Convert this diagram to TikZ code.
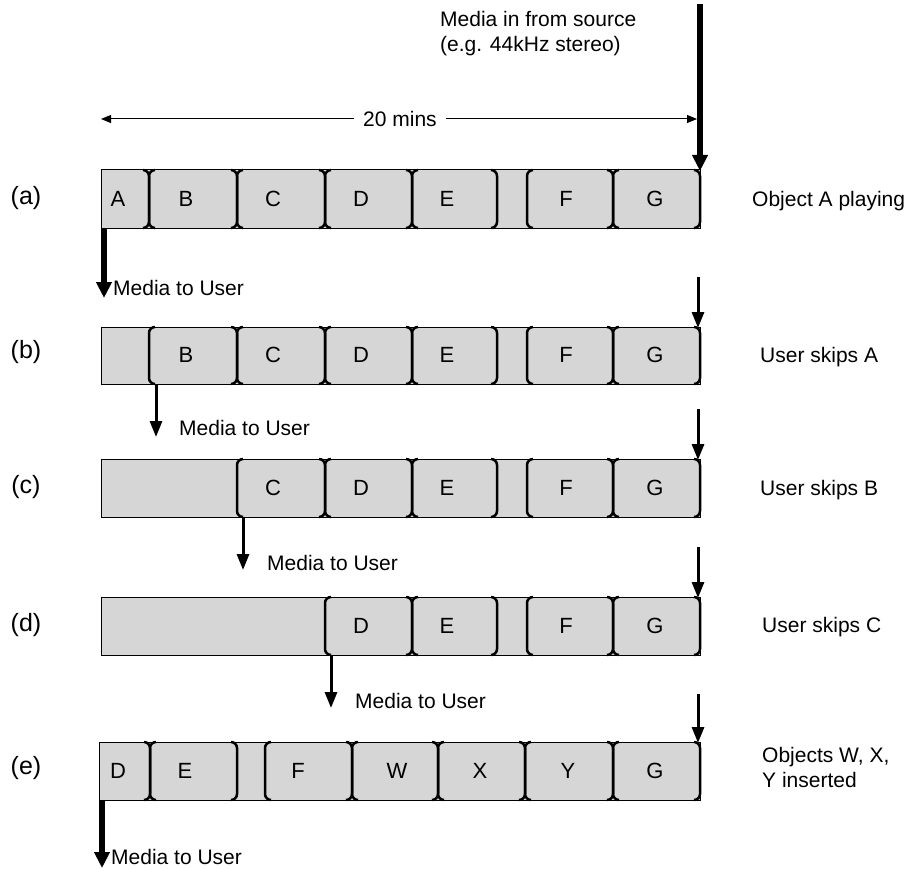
\documentclass[tikz,border=0pt]{standalone}
\usepackage{fontspec}
\setmainfont{Liberation Sans}
\usetikzlibrary{arrows.meta}
\definecolor{boxgray}{RGB}{214,214,214}
\newcommand\lbr[3]{\draw[brk] (#1+6,#2) -- (#1,#2) -- (#1,#3) -- (#1+6,#3);}
\newcommand\rbr[3]{\draw[brk] (#1-6,#2) -- (#1,#2) -- (#1,#3) -- (#1-6,#3);}
\newcommand\bufrow[3]{\draw[buf] (#1,#2) rectangle (700,#3);}
\begin{document}
\begin{tikzpicture}[x=1pt,y=-1pt,
  txt/.style={font=\fontsize{21}{25}\selectfont, inner sep=0pt},
  let/.style={font=\fontsize{22}{26}\selectfont, inner sep=0pt},
  rowlab/.style={font=\fontsize{25}{30}\selectfont, inner sep=0pt},
  buf/.style={fill=boxgray, draw=black, line width=1pt},
  brk/.style={line width=2.5pt, rounded corners=6pt},
  bigarrow/.style={line width=5.5pt, -{Triangle[width=15pt,length=16pt]}},
  smallarrow/.style={line width=3pt, -{Triangle[width=12pt,length=16pt]}},
  dimarrow/.style={line width=1pt, {Triangle[width=8pt,length=10pt]}-{Triangle[width=8pt,length=10pt]}}]
\useasboundingbox (0,0) rectangle (912,869);

% top annotation
\node[txt, anchor=west, align=left] (src) at (440,34) {Media in from source\\(e.g. 44kHz stereo)};
\coordinate (srctop) at (700,4);
\coordinate (srcbot) at (700,171);
\draw[bigarrow] (srctop) -- (srcbot);

% 20 mins
\coordinate (dl) at (101,119);
\coordinate (dr) at (697,119);
\draw[dimarrow] (dl) -- (dr);
\node[txt, fill=white, inner xsep=9pt, inner ysep=2pt] (mins) at (400,119) {20 mins};

% ---------- row (a) ----------
\bufrow{101}{170}{228}
\rbr{149}{170}{228}
\lbr{149}{170}{228}\rbr{237}{170}{228}
\lbr{237}{170}{228}\rbr{325}{170}{228}
\lbr{325}{170}{228}\rbr{412}{170}{228}
\lbr{412}{170}{228}\rbr{497}{170}{228}
\lbr{527}{170}{228}\rbr{613}{170}{228}
\lbr{613}{170}{228}\rbr{700}{170}{228}
\node[let] (aA) at (118,199) {A};
\node[let] (aB) at (186,199) {B};
\node[let] (aC) at (273,199) {C};
\node[let] (aD) at (361,199) {D};
\node[let] (aE) at (447,199) {E};
\node[let] (aF) at (566,199) {F};
\node[let] (aG) at (655,199) {G};
\node[rowlab] (la) at (26,198) {(a)};
\node[txt, anchor=west] (ra) at (752,201) {Object A playing};
\coordinate (ua1) at (104,228);
\coordinate (ua2) at (104,298);
\draw[bigarrow] (ua1) -- (ua2);
\node[txt, anchor=west] (ma) at (113,288) {Media to User};

% ---------- row (b) ----------
\bufrow{101}{327}{384}
\lbr{149}{327}{384}\rbr{237}{327}{384}
\lbr{237}{327}{384}\rbr{325}{327}{384}
\lbr{325}{327}{384}\rbr{412}{327}{384}
\lbr{412}{327}{384}\rbr{497}{327}{384}
\lbr{527}{327}{384}\rbr{613}{327}{384}
\lbr{613}{327}{384}\rbr{700}{327}{384}
\node[let] (bB) at (186,355) {B};
\node[let] (bC) at (273,355) {C};
\node[let] (bD) at (361,355) {D};
\node[let] (bE) at (447,355) {E};
\node[let] (bF) at (566,355) {F};
\node[let] (bG) at (655,355) {G};
\node[rowlab] (lb) at (26,352) {(b)};
\node[txt, anchor=west] (rb) at (760,357) {User skips A};
\coordinate (ib1) at (698,277);
\coordinate (ib2) at (698,328);
\draw[smallarrow] (ib1) -- (ib2);
\coordinate (ub1) at (156,384);
\coordinate (ub2) at (156,437);
\draw[smallarrow] (ub1) -- (ub2);
\node[txt, anchor=west] (mb) at (179,428) {Media to User};

% ---------- row (c) ----------
\bufrow{101}{459}{517}
\lbr{237}{459}{517}\rbr{325}{459}{517}
\lbr{325}{459}{517}\rbr{412}{459}{517}
\lbr{412}{459}{517}\rbr{497}{459}{517}
\lbr{527}{459}{517}\rbr{613}{459}{517}
\lbr{613}{459}{517}\rbr{700}{459}{517}
\node[let] (cC) at (273,488) {C};
\node[let] (cD) at (361,488) {D};
\node[let] (cE) at (447,488) {E};
\node[let] (cF) at (566,488) {F};
\node[let] (cG) at (655,488) {G};
\node[rowlab] (lc) at (26,487) {(c)};
\node[txt, anchor=west] (rc) at (760,490) {User skips B};
\coordinate (ic1) at (698,409);
\coordinate (ic2) at (698,460);
\draw[smallarrow] (ic1) -- (ic2);
\coordinate (uc1) at (243,517);
\coordinate (uc2) at (243,570);
\draw[smallarrow] (uc1) -- (uc2);
\node[txt, anchor=west] (mc) at (267,563) {Media to User};

% ---------- row (d) ----------
\bufrow{101}{597}{655}
\lbr{325}{597}{655}\rbr{412}{597}{655}
\lbr{412}{597}{655}\rbr{497}{597}{655}
\lbr{527}{597}{655}\rbr{613}{597}{655}
\lbr{613}{597}{655}\rbr{700}{597}{655}
\node[let] (dD) at (361,626) {D};
\node[let] (dE) at (447,626) {E};
\node[let] (dF) at (566,626) {F};
\node[let] (dG) at (655,626) {G};
\node[rowlab] (ld) at (26,625) {(d)};
\node[txt, anchor=west] (rd) at (762,627) {User skips C};
\coordinate (id1) at (698,547);
\coordinate (id2) at (698,598);
\draw[smallarrow] (id1) -- (id2);
\coordinate (ud1) at (331,655);
\coordinate (ud2) at (331,708);
\draw[smallarrow] (ud1) -- (ud2);
\node[txt, anchor=west] (md) at (355,701) {Media to User};

% ---------- row (e) ----------
\bufrow{99}{742}{800}
\rbr{150}{742}{800}
\lbr{150}{742}{800}\rbr{237}{742}{800}
\lbr{265}{742}{800}\rbr{352}{742}{800}
\lbr{352}{742}{800}\rbr{438}{742}{800}
\lbr{438}{742}{800}\rbr{525}{742}{800}
\lbr{525}{742}{800}\rbr{613}{742}{800}
\lbr{613}{742}{800}\rbr{700}{742}{800}
\node[let] (eD) at (118,771) {D};
\node[let] (eE) at (185,771) {E};
\node[let] (eF) at (298,771) {F};
\node[let] (eW) at (397,771) {W};
\node[let] (eX) at (480,771) {X};
\node[let] (eY) at (568,771) {Y};
\node[let] (eG) at (655,771) {G};
\node[rowlab] (le) at (26,768) {(e)};
\node[txt, anchor=west, align=left] (re) at (762,767) {Objects W, X,\\Y inserted};
\coordinate (ie1) at (698,694);
\coordinate (ie2) at (698,743);
\draw[smallarrow] (ie1) -- (ie2);
\coordinate (ue1) at (102,800);
\coordinate (ue2) at (102,868);
\draw[bigarrow] (ue1) -- (ue2);
\node[txt, anchor=west] (me) at (111,857) {Media to User};
\end{tikzpicture}
\end{document}
